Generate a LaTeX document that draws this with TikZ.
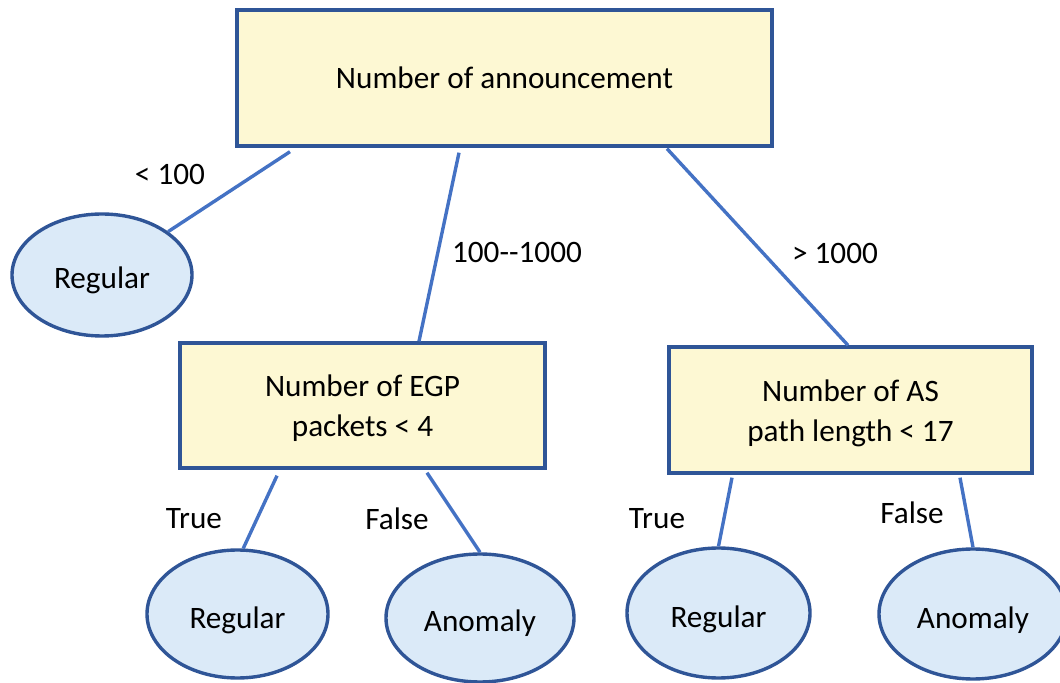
\documentclass[tikz,border=0pt]{standalone}
\usepackage{fontspec}
\setmainfont{Carlito}
\usetikzlibrary{shapes.geometric}
\definecolor{boxfill}{HTML}{FDF8D3}
\definecolor{leaffill}{HTML}{DBEAF8}
\definecolor{edgeblue}{HTML}{2F5597}
\definecolor{linkblue}{HTML}{4472C4}
\tikzset{
  testbox/.style={draw=edgeblue, fill=boxfill, line width=1.7pt, rectangle,
    align=center, inner sep=0pt},
  leaf/.style={draw=edgeblue, fill=leaffill, line width=1.7pt, ellipse,
    inner sep=0pt, text height=14pt, text depth=0pt},
  link/.style={draw=linkblue, line width=1.7pt},
  cond/.style={inner sep=0pt, anchor=center},
}
\begin{document}
\begin{tikzpicture}[x=0.5pt, y=-0.5pt, font=\fontsize{15.6}{20}\selectfont]
  \useasboundingbox (0,0) rectangle (1060,683);

  % decision nodes
  \node[testbox, minimum width=267.5pt, minimum height=68pt] (top) at (504.5,78) {Number of announcement};
  \node[testbox, minimum width=182.5pt, minimum height=62.5pt] (egp) at (362.5,405.5) {};
  \node[testbox, minimum width=181.5pt, minimum height=63pt] (aspath) at (850.5,410) {};
  \node[align=center, inner sep=0pt] (egptext) at ([yshift=-1.5pt]egp.center) {Number of EGP\\packets < 4};
  \node[align=center, inner sep=0pt] (astext) at ([yshift=-1.5pt]aspath.center) {Number of AS\\path length < 17};

  % leaves
  \node[leaf, minimum width=90pt, minimum height=61pt] (reg0) at (102,275) {Regular};
  \node[leaf, minimum width=90.5pt, minimum height=64pt] (reg1) at (237.5,614) {Regular};
  \node[leaf, minimum width=94pt, minimum height=64pt] (an1) at (480,618) {Anomaly};
  \node[leaf, minimum width=91.5pt, minimum height=65pt] (reg2) at (718.5,613) {Regular};
  \node[leaf, minimum width=94pt, minimum height=65pt] (an2) at (973,614) {Anomaly};

  % branches
  \draw[link] ([shift={(-214.5,4)}]top.south) -- (reg0);
  \draw[link] ([shift={(-45.5,5)}]top.south) -- ([xshift=28.25pt]egp.north);
  \draw[link] ([shift={(162.5,1)}]top.south) -- ([xshift=-1.25pt]aspath.north);
  \draw[link] ([shift={(-85.5,6)}]egp.south) -- (reg1.85);
  \draw[link] ([shift={(64.5,3)}]egp.south) -- (an1.north);
  \draw[link] ([shift={(-118.5,3)}]aspath.south) -- (reg2.north);
  \draw[link] ([shift={(109.5,3)}]aspath.south) -- (an2.north);

  % branch conditions
  \node[cond] (c0) at (170,174) {< 100};
  \node[cond] (c1) at (517,252) {100{-}{-}1000};
  \node[cond] (c2) at (835,253) {> 1000};
  \node[cond] (c3) at (194,519) {True};
  \node[cond] (c4) at (397,519) {False};
  \node[cond] (c5) at (657,519) {True};
  \node[cond] (c6) at (912,513) {False};
\end{tikzpicture}
\end{document}
